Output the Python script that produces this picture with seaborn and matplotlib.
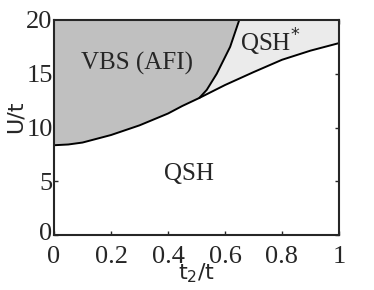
import matplotlib
matplotlib.use("Agg")
import matplotlib.pyplot as plt
import matplotlib.transforms as mtrans
import seaborn as sns
import pandas as pd

# lower boundary (QSH / ordered phases)
t2_low = [0.0, 0.05, 0.1, 0.2, 0.3, 0.4, 0.45, 0.51, 0.6, 0.7, 0.8, 0.9, 1.0]
U_low = [8.35, 8.42, 8.6, 9.3, 10.2, 11.3, 12.0, 12.75, 13.95, 15.15, 16.3, 17.15, 17.85]
# upper boundary (VBS / QSH*)
t2_up = [0.51, 0.536, 0.571, 0.618, 0.65]
U_up = [12.75, 13.5, 15.0, 17.5, 20.0]

xticks = [0, 0.2, 0.4, 0.6, 0.8, 1]
xticklabels = ["0", "0.2", "0.4", "0.6", "0.8", "1"]
yticks = [0, 5, 10, 15, 20]
yticklabels = ["0", "5", "10", "15", "20"]

sns.set_style("ticks")
plt.rcParams["font.family"] = ["DejaVu Sans"]

fig = plt.figure(figsize=(3.74, 2.90), dpi=100)
ax = fig.add_axes([54/374, 1-235/290, 285/374, 215/290])

low = pd.DataFrame({"t2": t2_low, "U": U_low})
up = pd.DataFrame({"t2": t2_up, "U": U_up})

j = t2_low.index(0.51)
# VBS polygon
vx = t2_low[:j+1] + t2_up[1:] + [0.0]
vy = U_low[:j+1] + U_up[1:] + [20.0]
ax.fill(vx, vy, color="#c0c0c0", lw=0, zorder=1)
# QSH* polygon
qx = t2_low[j:] + [1.0] + t2_up[::-1][:-1]
qy = U_low[j:] + [20.0] + U_up[::-1][:-1]
ax.fill(qx, qy, color="#ebebeb", lw=0, zorder=1)

sns.lineplot(data=low, x="t2", y="U", ax=ax, color="black", lw=1.4, sort=False, zorder=3)
sns.lineplot(data=up, x="t2", y="U", ax=ax, color="black", lw=1.4, sort=False, zorder=3)

ax.set_xlim(0, 1)
ax.set_ylim(0, 20)
ax.set_xticks(xticks)
ax.set_xticklabels(xticklabels)
ax.set_yticks(yticks)
ax.set_yticklabels(yticklabels)
for lab in ax.get_xticklabels() + ax.get_yticklabels():
    lab.set_fontfamily("Liberation Serif")
    lab.set_fontsize(19)
ax.tick_params(direction="in", length=3, width=1, top=True, right=True)
ax.tick_params(axis="x", pad=8)
ax.tick_params(axis="y", pad=1)
# nudge the y-axis "0" up slightly so it clears the x-axis "0"
ylab0 = ax.get_yticklabels()[0]
ylab0.set_transform(ylab0.get_transform() + mtrans.ScaledTranslation(0, 3/100, fig.dpi_scale_trans))
for s in ax.spines.values():
    s.set_linewidth(1.5)
    s.set_zorder(5)

ax.set_xlabel("t$_2$/t", fontsize=16)
ax.set_ylabel("U/t", fontsize=16)
ax.xaxis.set_label_coords(0.50, -0.125)
ax.yaxis.set_label_coords(-0.10, 0.55)

ax.text(0.29, 16.0, "VBS (AFI)", fontfamily="Liberation Serif", fontsize=18, ha="center", va="center", zorder=4)
ax.text(0.76, 17.9, "QSH$^{*}$", fontfamily="Liberation Serif", fontsize=18, ha="center", va="center", zorder=4)
ax.text(0.475, 5.7, "QSH", fontfamily="Liberation Serif", fontsize=18, ha="center", va="center", zorder=4)

fig.savefig("out.png", dpi=100)
